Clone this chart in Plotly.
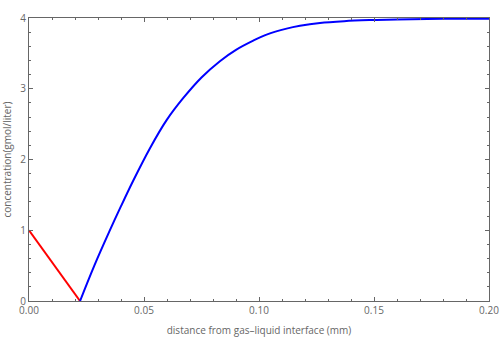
import plotly.graph_objects as go

red_x = [0.0, 0.0222]
red_y = [1.0, 0.0]

blue_x = [0.0222, 0.0284, 0.0349, 0.040, 0.0453, 0.0526, 0.0599, 0.0671, 0.075, 0.083,
          0.090, 0.0975, 0.1033, 0.112, 0.1178, 0.1265, 0.137, 0.148, 0.16, 0.18, 0.2]
blue_y = [0.0, 0.50, 0.98, 1.34, 1.70, 2.16, 2.56, 2.87, 3.16, 3.39,
          3.55, 3.68, 3.765, 3.85, 3.89, 3.93, 3.955, 3.97, 3.98, 3.988, 3.99]

x_ticks = [0.0, 0.05, 0.10, 0.15, 0.20]
y_ticks = [0, 1, 2, 3, 4]

fig = go.Figure()
fig.add_trace(go.Scatter(x=red_x, y=red_y, mode="lines",
                         line=dict(color="#ff0000", width=2)))
fig.add_trace(go.Scatter(x=blue_x, y=blue_y, mode="lines",
                         line=dict(color="#0000ff", width=2, shape="spline", smoothing=1)))

font_col = "#666666"
axis_common = dict(
    showgrid=False, zeroline=False, showline=True, linecolor="#666666", linewidth=1,
    mirror="allticks", ticks="inside", ticklen=4, tickcolor="#666666", tickwidth=1,
    tickfont=dict(family="Open Sans", size=10, color=font_col), automargin=False,
)

fig.update_layout(
    width=500, height=350,
    margin=dict(l=29, r=11, t=18, b=49),
    paper_bgcolor="white", plot_bgcolor="white",
    showlegend=False,
    font=dict(family="Open Sans", size=10, color=font_col),
    xaxis=dict(range=[0, 0.2], tickvals=x_ticks, tickformat=".2f",
               minor=dict(dtick=0.01, ticks="inside", ticklen=2, tickcolor="#666666"),
               title=dict(text="distance from gas\u2013liquid interface (mm)",
                          font=dict(size=10, color=font_col), standoff=10),
               **axis_common),
    yaxis=dict(range=[0, 4], tickvals=y_ticks,
               minor=dict(dtick=0.2, ticks="inside", ticklen=2, tickcolor="#666666"),
               title=dict(text="concentration(gmol/liter)",
                          font=dict(size=10, color=font_col), standoff=8),
               **axis_common),
)

fig.write_html("out.html")
